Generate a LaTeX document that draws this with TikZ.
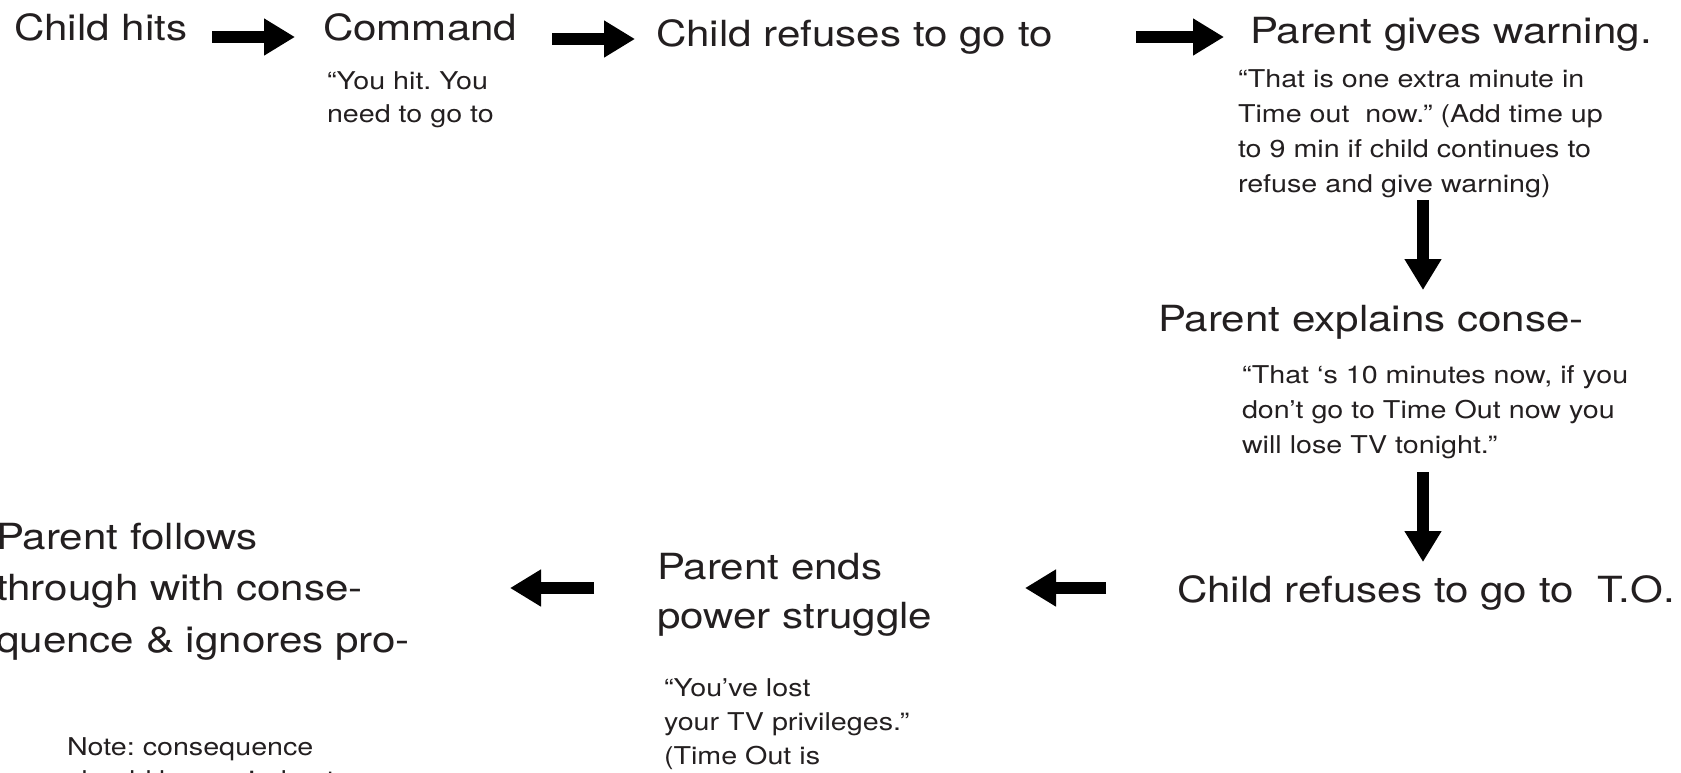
\documentclass[tikz,border=0pt]{standalone}
\usepackage{fontspec}
\setmainfont{TeX Gyre Heros}[FakeStretch=1.17]
\usetikzlibrary{arrows.meta}
\definecolor{ink}{HTML}{231F20}
\frenchspacing
\begin{document}
\begin{tikzpicture}[x=1pt,y=-1pt,
  head/.style={font=\fontsize{36}{50}\selectfont, anchor=base west, inner sep=0pt, outer sep=0pt, align=left, text=ink},
  quote/.style={font=\fontsize{24.5}{35}\selectfont, anchor=base west, inner sep=0pt, outer sep=0pt, align=left, text=ink},
  bigarrow/.style={line width=12pt, -{Triangle[length=31pt 0, width=35pt 0]}, black}]
\useasboundingbox (0,0) rectangle (1681,772);

% (multi-line nodes: base anchor = baseline of the last line)
% top row
\node[head] (t1) at (14,40) {Child hits};
\node[head] (t2) at (323,40) {Command};
\node[quote,font=\fontsize{24.5}{33}\selectfont] (q1) at (327,122) {“You hit. You\\need to go to};
\node[head] (t3) at (656,46) {Child refuses to go to};
\node[head] (t4) at (1250,43) {Parent gives warning.};
\node[quote] (q2) at (1238,192) {“That is one extra minute in\\Time out\ \ now.” (Add time up\\to 9 min if child continues to\\refuse and give warning)};

% right column
\node[head] (t5) at (1158,331) {Parent explains conse-};
\node[quote] (q3) at (1242,453) {“That ‘s 10 minutes now, if you\\don’t go to Time Out now you\\will lose TV tonight.”};
\node[head] (t6) at (1177,602) {Child refuses to go to\ \ T.O.};

% bottom row
\node[head,font=\fontsize{36}{49}\selectfont] (t7) at (657,628) {Parent ends\\power struggle};
\node[quote,font=\fontsize{24.5}{34}\selectfont] (q4) at (664,764) {“You’ve lost\\your TV privileges.”\\(Time Out is};
\node[head,font=\fontsize{36}{51.5}\selectfont] (t8) at (-4,652) {Parent follows\\through with conse-\\quence \& ignores pro-};
\node[quote,font=\fontsize{24.5}{33}\selectfont] (note) at (67,788) {Note: consequence\\should be carried out};

% arrows
\coordinate (a1s) at (212,37);  \coordinate (a1e) at (295,37);
\coordinate (a2s) at (552,39);  \coordinate (a2e) at (635,39);
\coordinate (a3s) at (1136,37); \coordinate (a3e) at (1224,37);
\coordinate (d1s) at (1423,200); \coordinate (d1e) at (1423,290);
\coordinate (d2s) at (1423,472); \coordinate (d2e) at (1423,562);
\coordinate (aRs) at (1106,588); \coordinate (aRe) at (1025,588);
\coordinate (aMs) at (594,588);  \coordinate (aMe) at (510,588);

\draw[bigarrow] (a1s) -- (a1e);
\draw[bigarrow] (a2s) -- (a2e);
\draw[bigarrow] (a3s) -- (a3e);
\draw[bigarrow] (d1s) -- (d1e);
\draw[bigarrow] (d2s) -- (d2e);
\draw[bigarrow] (aRs) -- (aRe);
\draw[bigarrow] (aMs) -- (aMe);
\end{tikzpicture}
\end{document}
